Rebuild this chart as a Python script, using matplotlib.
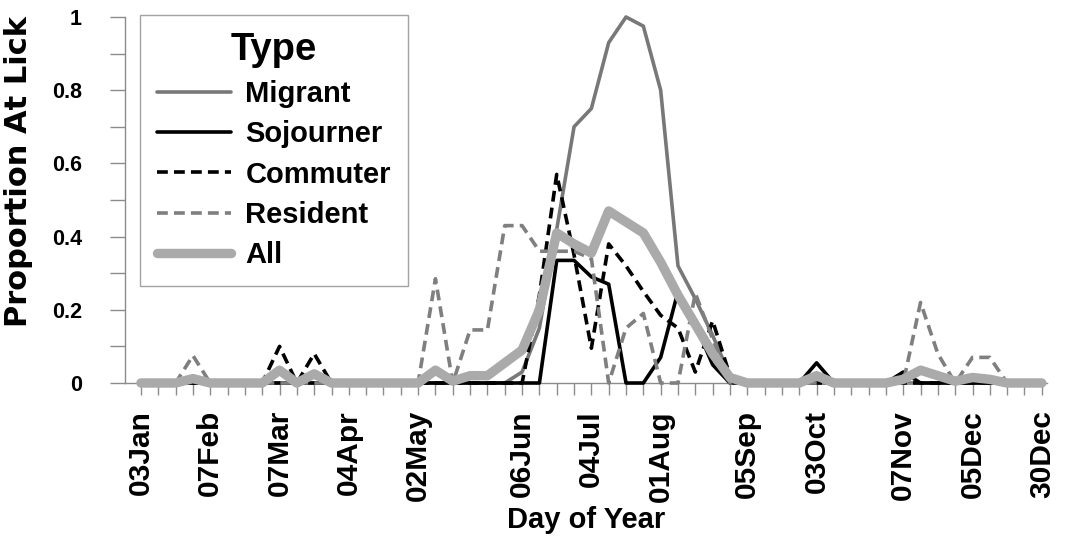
import matplotlib
matplotlib.use("Agg")
import matplotlib.pyplot as plt
import numpy as np

plt.rcParams['font.family'] = ['Liberation Sans', 'DejaVu Sans']
plt.rcParams['font.weight'] = 'bold'

# weekly bins, 53 points
n_weeks = 53
tick_idx = [0, 4, 8, 12, 16, 22, 26, 30, 35, 39, 44, 48, 52]
tick_labels = ["03Jan", "07Feb", "07Mar", "04Apr", "02May", "06Jun", "04Jul",
               "01Aug", "05Sep", "03Oct", "07Nov", "05Dec", "30Dec"]

# proportion at lick, by type (non-zero weeks only)
migrant_nz = {22: 0.03, 23: 0.15, 24: 0.42, 25: 0.70, 26: 0.75, 27: 0.93,
              28: 1.0, 29: 0.975, 30: 0.80, 31: 0.32, 32: 0.23, 33: 0.13,
              34: 0.02}
sojourner_nz = {24: 0.335, 25: 0.335, 26: 0.29, 27: 0.27, 30: 0.07,
                31: 0.25, 32: 0.16, 33: 0.05, 39: 0.055, 44: 0.03}
commuter_nz = {8: 0.10, 10: 0.08, 23: 0.24, 24: 0.57, 25: 0.35, 26: 0.095,
               27: 0.38, 28: 0.32, 29: 0.25, 30: 0.185, 31: 0.15, 32: 0.03,
               33: 0.17, 34: 0.02}
resident_nz = {3: 0.075, 17: 0.285, 19: 0.145, 20: 0.145, 21: 0.43,
               22: 0.43, 23: 0.36, 24: 0.36, 25: 0.36, 26: 0.34, 28: 0.15,
               29: 0.19, 32: 0.245, 33: 0.12, 45: 0.22, 46: 0.08, 48: 0.07,
               49: 0.07}
all_nz = {3: 0.012, 8: 0.035, 10: 0.025, 17: 0.035, 18: 0.005, 19: 0.02,
          20: 0.02, 21: 0.055, 22: 0.09, 23: 0.2, 24: 0.41, 25: 0.38,
          26: 0.355, 27: 0.47, 28: 0.44, 29: 0.41, 30: 0.33, 31: 0.24,
          32: 0.16, 33: 0.08, 34: 0.015, 39: 0.02, 44: 0.01, 45: 0.035,
          46: 0.02, 47: 0.005, 48: 0.015, 49: 0.01}


def expand(d):
    v = np.zeros(n_weeks)
    for k in d:
        v[k] = d[k]
    return v


weeks = np.arange(n_weeks)
series = [
    ("Migrant", expand(migrant_nz), dict(color="#787878", lw=2.6, ls="-")),
    ("Sojourner", expand(sojourner_nz), dict(color="black", lw=2.6, ls="-")),
    ("Commuter", expand(commuter_nz), dict(color="black", lw=2.6, ls=(0, (3.0, 1.7)))),
    ("Resident", expand(resident_nz), dict(color="#7f7f7f", lw=2.6, ls=(0, (3.0, 1.7)))),
    ("All", expand(all_nz), dict(color="#aaaaaa", lw=6.8, ls="-")),
]

fig = plt.figure(figsize=(10.67, 5.42), dpi=100)
ax = fig.add_axes([125 / 1067, 1 - 383 / 542, (1047 - 125) / 1067, (383 - 17) / 542])

z = 2
for name, vals, st in series:
    ax.plot(weeks, vals, label=name, clip_on=False, zorder=z,
            solid_capstyle="round", dash_capstyle="butt", **st)
    z += 1

ax.set_xlim(-0.92, 52.3)
ax.set_ylim(0, 1)

for s in ["top", "right"]:
    ax.spines[s].set_visible(False)
for s in ["left", "bottom"]:
    ax.spines[s].set_color("#8c8c8c")
    ax.spines[s].set_linewidth(1.0)

ax.set_xticks(tick_idx)
ax.set_xticklabels(tick_labels, rotation=90, fontsize=21.5, fontweight="bold")
ax.set_xticks(weeks, minor=True)
ax.tick_params(axis="x", which="both", direction="out", length=8.5,
               width=1.0, color="#8c8c8c", pad=11)

ax.set_yticks(np.arange(0, 1.01, 0.2))
ax.set_yticklabels(["0", "0.2", "0.4", "0.6", "0.8", "1"], fontsize=15.5,
                   fontweight="bold")
ax.set_yticks(np.arange(0, 1.01, 0.1), minor=True)
ax.tick_params(axis="y", which="both", direction="out", length=11,
               width=1.0, color="#8c8c8c", pad=20)

ax.set_xlabel("Day of Year", fontsize=21, fontweight="bold", labelpad=3)
ax.set_ylabel("Proportion At Lick", fontsize=22, fontweight="bold",
              family="DejaVu Sans")
ax.yaxis.set_label_coords(-0.1, 0.577)

leg = ax.legend(loc="upper left", bbox_to_anchor=(140 / 1067, 1 - 15 / 542),
                bbox_transform=fig.transFigure, borderaxespad=0,
                prop=dict(size=21, weight="bold"), title="Type",
                title_fontproperties=dict(size=27.5, weight="bold"),
                handlelength=2.55, handletextpad=0.48, labelspacing=0.42,
                borderpad=0.58, fancybox=False, frameon=True)
leg.get_frame().set_edgecolor("#8c8c8c")
leg.get_frame().set_linewidth(1.0)
leg.set_zorder(20)

fig.savefig("out.png", dpi=100)
